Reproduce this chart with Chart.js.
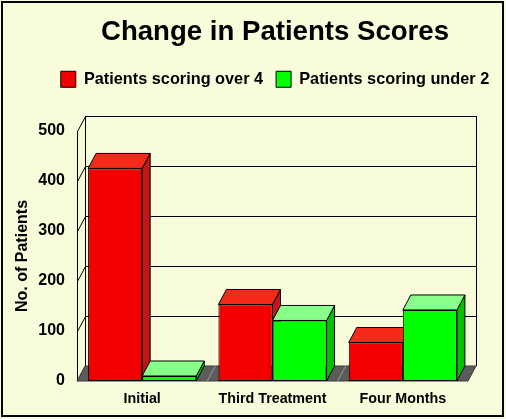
<!DOCTYPE html>
<html>
<head>
<meta charset="utf-8">
<style>
  html, body { margin: 0; padding: 0; background: #F8FCDA; }
  canvas { display: block; }
</style>
</head>
<body>
<canvas id="chart" width="506" height="419"></canvas>
<script src="https://cdn.jsdelivr.net/npm/chart.js"></script>
<script>
  // values
  const categories = ['Initial', 'Third Treatment', 'Four Months'];
  const over4 = [425, 153, 77];
  const under2 = [10, 121, 142];
  const yTicks = [0, 100, 200, 300, 400, 500];

  const FONT = "'Liberation Sans', Arial, sans-serif";
  const BG = '#F8FCDA';
  // depth of the fake 3d box
  const DX = 8, DY = -15;
  const shades = [
    { top: '#F52A1A', side: '#C01818' },
    { top: '#88FF88', side: '#00C000' }
  ];

  function poly(ctx, pts, fill, stroke) {
    ctx.beginPath();
    ctx.moveTo(pts[0][0], pts[0][1]);
    for (let i = 1; i < pts.length; i++) ctx.lineTo(pts[i][0], pts[i][1]);
    ctx.closePath();
    if (fill) { ctx.fillStyle = fill; ctx.fill(); }
    if (stroke) { ctx.strokeStyle = stroke; ctx.lineWidth = 1; ctx.stroke(); }
  }
  function line(ctx, x1, y1, x2, y2, color) {
    ctx.beginPath();
    ctx.moveTo(x1, y1);
    ctx.lineTo(x2, y2);
    ctx.strokeStyle = color || '#000';
    ctx.lineWidth = 1;
    ctx.stroke();
  }

  const threeD = {
    id: 'threeD',
    beforeDraw(chart) {
      const ctx = chart.ctx;
      ctx.save();
      ctx.fillStyle = BG;
      ctx.fillRect(0, 0, chart.width, chart.height);
      ctx.strokeStyle = '#000';
      ctx.lineWidth = 2;
      ctx.strokeRect(2, 2, 501, 414);
      ctx.restore();
    },
    beforeDatasetsDraw(chart) {
      const { ctx, chartArea: a, scales: { x, y } } = chart;
      const y0 = y.getPixelForValue(0);
      const yTop = y.getPixelForValue(500);
      ctx.save();
      // back wall + gridlines
      line(ctx, a.left + DX + 0.5, yTop + DY, a.left + DX + 0.5, y0 + DY);
      line(ctx, a.right + DX + 0.5, yTop + DY, a.right + DX + 0.5, y0 + DY);
      line(ctx, a.left + 0.5, yTop, a.left + 0.5, y0);
      y.ticks.forEach(t => {
        const py = Math.round(y.getPixelForValue(t.value)) + 0.5;
        line(ctx, a.left + 0.5, py, a.left + DX + 0.5, py + DY);
        if (t.value > 0) line(ctx, a.left + DX, py + DY, a.right + DX + 0.5, py + DY);
      });
      // floor
      poly(ctx, [[a.left, y0], [a.left + DX, y0 + DY], [a.right + DX, y0 + DY], [a.right, y0]], '#5C5C5C', '#3A3A3A');
      for (let i = 1; i < categories.length; i++) {
        const bx = (x.getPixelForValue(i - 1) + x.getPixelForValue(i)) / 2;
        line(ctx, bx, y0, bx + DX, y0 + DY, '#9A9A9A');
      }
      // tops and sides of the bars, fronts are drawn by Chart.js afterwards
      const metas = chart.getSortedVisibleDatasetMetas();
      for (let i = 0; i < categories.length; i++) {
        metas.forEach(meta => {
          const bar = meta.data[i];
          const p = bar.getProps(['x', 'y', 'base', 'width'], true);
          const l = p.x - p.width / 2, r = p.x + p.width / 2;
          const s = shades[meta.index];
          poly(ctx, [[r, p.y], [r + DX, p.y + DY], [r + DX, p.base + DY], [r, p.base]], s.side, '#000');
          poly(ctx, [[l, p.y], [l + DX, p.y + DY], [r + DX, p.y + DY], [r, p.y]], s.top, '#000');
        });
      }
      ctx.restore();
    }
  };

  Chart.defaults.color = '#000';
  Chart.defaults.font.family = FONT;

  new Chart(document.getElementById('chart').getContext('2d'), {
    type: 'bar',
    data: {
      labels: categories,
      datasets: [
        { label: 'Patients scoring over 4', data: over4, backgroundColor: '#F20000', borderColor: '#000', borderWidth: 1, borderSkipped: false },
        { label: 'Patients scoring under 2', data: under2, backgroundColor: '#00FF00', borderColor: '#000', borderWidth: 1, borderSkipped: false }
      ]
    },
    options: {
      responsive: false,
      animation: false,
      devicePixelRatio: 1,
      layout: { padding: { left: 0, right: -44, top: 0, bottom: 0 } },
      datasets: { bar: { categoryPercentage: 0.83, barPercentage: 1.0 } },
      plugins: {
        tooltip: { enabled: false },
        title: {
          display: true,
          text: 'Change in Patients Scores',
          color: '#000',
          font: { size: 27.6, weight: 'bold', family: FONT },
          padding: { top: 16, bottom: 9 }
        },
        legend: {
          display: true,
          labels: {
            color: '#000',
            boxWidth: 15,
            boxHeight: 16,
            padding: 13,
            font: { size: 16.3, weight: 'bold', family: FONT }
          }
        }
      },
      scales: {
        x: {
          grid: { display: false },
          border: { display: false },
          ticks: { padding: 1, color: '#000', font: { size: 14.3, weight: 'bold', family: FONT } },
          afterFit(s) { s.height = 38; }
        },
        xTop: {
          type: 'category',
          position: 'top',
          grid: { display: false },
          border: { display: false },
          ticks: { display: false },
          afterFit(s) { s.height = 33.5; }
        },
        y: {
          min: 0,
          max: 500,
          afterBuildTicks(s) { s.ticks = yTicks.map(v => ({ value: v })); },
          grid: { display: false },
          border: { display: false },
          ticks: { padding: 4, color: '#000', font: { size: 16, weight: 'bold', family: FONT } },
          title: {
            display: true,
            text: 'No. of Patients',
            color: '#000',
            padding: { top: 13, bottom: 0 },
            font: { size: 16, weight: 'bold', family: FONT }
          },
          afterFit(s) { s.width = 77; }
        },
        yRight: {
          type: 'linear',
          position: 'right',
          grid: { display: false },
          border: { display: false },
          ticks: { display: false },
          afterFit(s) { s.width = 82; }
        }
      }
    },
    plugins: [threeD]
  });
</script>
</body>
</html>
